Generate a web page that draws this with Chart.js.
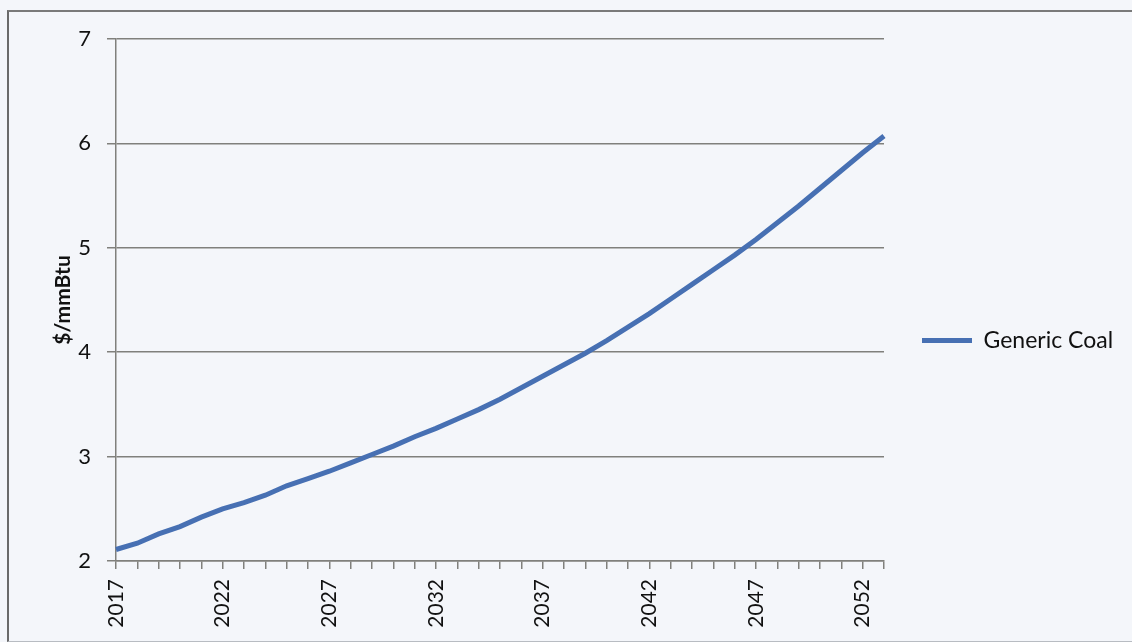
<!DOCTYPE html>
<html>
<head>
<meta charset="utf-8">
<script src="https://cdn.jsdelivr.net/npm/chart.js@4/dist/chart.umd.min.js"></script>
<style>
  html, body { margin: 0; padding: 0; background: #f4f6fa; }
  #wrap { position: relative; width: 1132px; height: 642px; overflow: hidden; }
  #frame { position: absolute; left: 7px; top: 10px; width: 1140px; height: 629px;
           border-left: 2px solid #6a6a6a; border-top: 2px solid #7a7a7a; border-bottom: 1px solid #b8bcc2; }
  canvas { position: absolute; left: 0; top: 0; }
</style>
</head>
<body>
<div id="wrap">
  <div id="frame"></div>
  <canvas id="chart" width="1132" height="642"></canvas>
</div>
<script>
// 年（2017〜2053）
const YEARS = [
  "2017", "2018", "2019", "2020", "2021", "2022", "2023", "2024", "2025", "2026",
  "2027", "2028", "2029", "2030", "2031", "2032", "2033", "2034", "2035", "2036",
  "2037", "2038", "2039", "2040", "2041", "2042", "2043", "2044", "2045", "2046",
  "2047", "2048", "2049", "2050", "2051", "2052", "2053"
];
// Generic Coal ($/mmBtu) — 画像から読み取り
const COAL = [
  2.11, 2.17, 2.26, 2.33, 2.42, 2.50, 2.56, 2.63, 2.72, 2.79,
  2.86, 2.94, 3.02, 3.10, 3.19, 3.27, 3.36, 3.45, 3.55, 3.66,
  3.77, 3.88, 3.99, 4.11, 4.24, 4.37, 4.51, 4.65, 4.79, 4.93,
  5.08, 5.24, 5.40, 5.57, 5.74, 5.91, 6.07
];
const Y_MIN = 2, Y_MAX = 7, Y_STEP = 1;
const LABEL_EVERY = 5;

const FONT = "Lato, 'Open Sans', sans-serif";
const GRID = "#80807c";
const BLUE = "#4770b3";
const INK = "#111111";

// 凡例の幅を固定する（右側 248px）
const legendWidth = {
  id: "legendWidth",
  beforeLayout(chart) {
    const lg = chart.legend;
    if (!lg || lg._patched) return;
    const fit = lg.fit;
    lg.fit = function () { fit.call(this); this.width = 248; };
    lg._patched = true;
  }
};

new Chart(document.getElementById("chart").getContext("2d"), {
  type: "line",
  data: {
    labels: YEARS,
    datasets: [{
      label: "Generic Coal",
      data: COAL,
      borderColor: BLUE,
      backgroundColor: BLUE,
      borderWidth: 5,
      pointRadius: 0,
      tension: 0
    }]
  },
  options: {
    responsive: false,
    animation: false,
    layout: { padding: { top: 39, left: 0, right: 0, bottom: 0 } },
    plugins: {
      tooltip: { enabled: false },
      legend: {
        position: "right",
        labels: {
          usePointStyle: true,
          pointStyle: "line",
          pointStyleWidth: 50,
          padding: 38,
          color: INK,
          font: { family: FONT, size: 23 }
        }
      }
    },
    scales: {
      x: {
        offset: false,
        afterFit: (s) => { s.height = 81; },
        grid: { drawOnChartArea: false, drawTicks: true, tickLength: 8, color: GRID, lineWidth: 1.5, offset: false },
        border: { color: GRID, width: 1.5 },
        ticks: {
          autoSkip: false,
          minRotation: 90,
          maxRotation: 90,
          padding: 10,
          color: INK,
          font: { family: FONT, size: 21 },
          callback: (v, i) => (i % LABEL_EVERY === 0 ? YEARS[i] : "")
        }
      },
      y: {
        min: Y_MIN,
        max: Y_MAX,
        afterFit: (s) => { s.width = 116; },
        grid: { color: GRID, lineWidth: 1.5, tickLength: 9 },
        border: { color: GRID, width: 1.5 },
        ticks: {
          stepSize: Y_STEP,
          padding: 16,
          color: INK,
          font: { family: FONT, size: 22 }
        },
        title: {
          display: true,
          text: "$/mmBtu",
          color: INK,
          padding: { top: 51, bottom: 0 },
          font: { family: FONT, size: 21, weight: "bold" }
        }
      }
    }
  },
  plugins: [legendWidth]
});
</script>
</body>
</html>
